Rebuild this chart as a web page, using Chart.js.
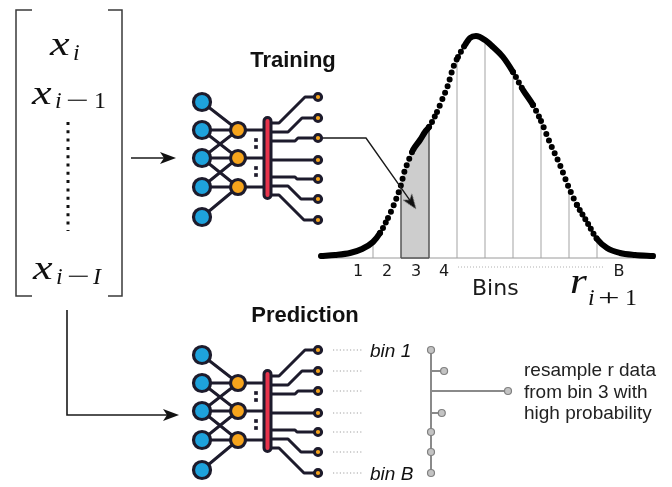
<!DOCTYPE html>
<html>
<head>
<meta charset="utf-8">
<script src="https://cdn.jsdelivr.net/npm/chart.js@4.4.1/dist/chart.umd.min.js"></script>
<style>
html,body{margin:0;padding:0;background:#fff;}
#wrap{width:672px;height:487px;position:relative;}
</style>
</head>
<body>
<div id="wrap"><canvas id="c"></canvas></div>
<script>
// ================= DATA (diagram units: x right, y down) =================
// Distribution of r_{i+1}: sampled points of the dotted density curve
const curveX = [321,335,350,362,373,380,388,395,401,404,408,413,420,425,429,437,442,448,453,458,465,470,476,485,493,503,513,523,533,541,550,560,569,577,587,597,607,620,635,653];
const curveY = [256,255,253,249,242,233,218,202,185,173,162,150,140,132,127,112,100,85,68,57,45,38,36,40,47,57,72,90,105,121,143,165,188,205,222,239,248,253,255,256];
// bin edges and the density height at each edge
const binEdges = [373,401,429,457,485,513,541,569,597];
const binTops  = [242,185,127,59,40,72,121,188,239];
const binLabels = ['1','2','3','4','B'];
const binLabelX = [358,387,416,444,619];
const shadedBin = [401,429];          // bin 3
// Network layout (training network; prediction network is the same, shifted)
const inputY  = [102,130,158,187,217];
const hiddenY = [130,158,187];
const outputY = [97,118,138,160,179,199,220];
const links   = [[0,0],[1,0],[1,1],[2,0],[2,1],[2,2],[3,1],[3,2],[4,2]];
const barLeaveY = [123,132,141,160,177,186,195];
const barBendX  = [279,288,295,0,295,288,279];
const ellipsisY = [140,147,168,175];
const predictionShift = 253;
// Predicted bin probabilities (branch lengths of the resampling tree)
const binProb = [0,0.17,1,0.14,0,0,0];
// Input window labels
const inputLabels = [['x','i'],['x','i','−','1'],['x','i','−','I']];

// ================= STYLE =================
const DARK = '#1d1b2c', BLUE = '#1ea2dc', ORANGE = '#f6a41c', RED = '#e8344c';
const ARROW = '#1a1a1a';
const L = {inX:202, hidX:238, barX:267.5, outX:318, barTop:121, barBot:195, dotsX:256,
           base:258, treeX:431, treeLen:77, leadA:333, leadB:363};

const ds = [];
function seg(points, opts) {
  ds.push(Object.assign({data: points.map(p => ({x:p[0], y:p[1]})), showLine:true, pointRadius:0,
    borderWidth:1, borderColor:'#000', backgroundColor:'transparent', fill:false, tension:0, clip:false,
    borderCapStyle:'butt', borderJoinStyle:'miter'}, opts || {}));
}
function pts(points, opts) {
  ds.push(Object.assign({data: points.map(p => ({x:p[0], y:p[1]})), showLine:false, pointRadius:4,
    pointBorderWidth:0, clip:false}, opts || {}));
}
function makeHead(w, h, notch) {
  const c = document.createElement('canvas'); c.width = w; c.height = h;
  const g = c.getContext('2d'); g.fillStyle = '#111';
  g.beginPath(); g.moveTo(w/2, 0); g.lineTo(w, h); g.lineTo(w/2, h - notch); g.lineTo(0, h); g.closePath(); g.fill();
  return c;
}
const bigHead = makeHead(12, 16, 4);
const smallHead = makeHead(11, 15, 4);
function arrow(path, head, width) {
  const [fx, fy] = path[path.length-2], [tx, ty] = path[path.length-1];
  const dx = tx-fx, dy = ty-fy, len = Math.hypot(dx, dy), ux = dx/len, uy = dy/len;
  const hc = head.height/2;
  const shaft = path.slice(0,-1).concat([[tx - ux*head.height*0.7, ty - uy*head.height*0.7]]);
  seg(shaft, {borderColor: ARROW, borderWidth: width || 1.6});
  pts([[tx - ux*hc, ty - uy*hc]], {pointStyle: head, pointRadius: 5, pointRotation: Math.atan2(ux, -uy)*180/Math.PI});
}

// ---------- input bracket ----------
seg([[32,10],[16,10],[16,296],[32,296]], {borderColor:'#3a3a3a', borderWidth:1.5});
seg([[108,10],[122,10],[122,296],[108,296]], {borderColor:'#3a3a3a', borderWidth:1.5});
seg([[68,122],[68,231]], {borderColor:'#111', borderWidth:3, borderDash:[3,5.3]});

// ---------- arrows into networks ----------
arrow([[131,158],[176,158]], bigHead);
arrow([[67,310],[67,415],[179,415]], bigHead);

// ---------- networks ----------
function network(off) {
  const lk = {borderColor: DARK, borderWidth: 3, borderCapStyle:'round', borderJoinStyle:'round'};
  links.forEach(([i,h]) => seg([[L.inX, inputY[i]+off],[L.hidX, hiddenY[h]+off]], lk));
  hiddenY.forEach(h => seg([[L.hidX, h+off],[L.barX, h+off]], lk));
  outputY.forEach((oy, k) => {
    const by = barLeaveY[k];
    if (!barBendX[k]) { seg([[L.barX, oy+off],[L.outX, oy+off]], lk); return; }
    const b2 = barBendX[k] + Math.abs(by - oy);
    seg([[L.barX, by+off],[barBendX[k], by+off],[b2, oy+off],[L.outX, oy+off]], lk);
  });
  seg([[L.barX, L.barTop+off],[L.barX, L.barBot+off]], {borderColor: DARK, borderWidth: 10, borderCapStyle:'round'});
  seg([[L.barX, L.barTop+off],[L.barX, L.barBot+off]], {borderColor: RED, borderWidth: 4, borderCapStyle:'round'});
  pts(ellipsisY.map(y => [L.dotsX, y+off]), {pointStyle:'rect', pointRadius:2.6, pointBackgroundColor: DARK});
  pts(inputY.map(y => [L.inX, y+off]), {pointRadius:8.5, pointBackgroundColor: BLUE, pointBorderColor: DARK, pointBorderWidth:3.2});
  pts(hiddenY.map(y => [L.hidX, y+off]), {pointRadius:7.5, pointBackgroundColor: ORANGE, pointBorderColor: DARK, pointBorderWidth:3.2});
  pts(outputY.map(y => [L.outX, y+off]), {pointRadius:3.6, pointBackgroundColor: ORANGE, pointBorderColor: DARK, pointBorderWidth:3});
}
network(0);
network(predictionShift);

// ---------- distribution ----------
seg([[320, L.base],[655, L.base]], {borderColor:'#9a9a9a', borderWidth:1});
const shadeIdx = curveX.map((x,i)=>i).filter(i => curveX[i] >= shadedBin[0] && curveX[i] <= shadedBin[1]);
seg(shadeIdx.map(i => [curveX[i], curveY[i]]), {borderWidth:0, fill:{value: L.base}, backgroundColor:'#cdcdcd', cubicInterpolationMode:'monotone'});
binEdges.forEach((e,k) => {
  const isShade = e === shadedBin[0] || e === shadedBin[1];
  seg([[e, L.base],[e, binTops[k]]], {borderColor: isShade ? '#555' : '#a3a3a3', borderWidth: isShade ? 1.5 : 1});
});
seg([[shadedBin[0], L.base],[shadedBin[1], L.base]], {borderColor:'#555', borderWidth:1.5});
seg([[458,267],[603,267]], {borderColor:'#b0b0b0', borderWidth:1, borderDash:[1,2]});
seg(curveX.map((x,i)=>[x, curveY[i]]), {
  borderColor:'#000', borderWidth:6, borderCapStyle:'round', cubicInterpolationMode:'monotone', borderDash:[],
  segment: {
    borderDash: ctx => {
      const dx = ctx.p1.x - ctx.p0.x, dy = ctx.p1.y - ctx.p0.y;
      const s = Math.abs(dy / dx);
      const step = Math.min(7, 2.9 * Math.sqrt(1 + s*s));
      return step < 5.6 ? [] : [0, Math.round(step*2)/2];
    }
  }
});
// training arrow from output 3 to bin 3
arrow([[L.outX+5, outputY[2]],[366, outputY[2]],[416, 209]], smallHead, 1.4);

// ---------- prediction: leaders + resampling tree ----------
outputY.forEach(oy => seg([[L.leadA, oy+predictionShift],[L.leadB, oy+predictionShift]], {borderColor:'#a0a0a0', borderWidth:1, borderDash:[1.2,2.2]}));
const treeY = outputY.map(y => y + predictionShift);
seg([[L.treeX, treeY[0]],[L.treeX, treeY[treeY.length-1]]], {borderColor:'#8a8a8a', borderWidth:2});
binProb.forEach((p,k) => { if (p > 0) seg([[L.treeX, treeY[k]],[L.treeX + p*L.treeLen, treeY[k]]], {borderColor:'#8a8a8a', borderWidth:2}); });
pts(binProb.map((p,k) => [L.treeX + p*L.treeLen, treeY[k]]), {pointRadius:3.5, pointBackgroundColor:'#c3c3c3', pointBorderColor:'#808080', pointBorderWidth:1.2});

// painter's order: later pushed = drawn on top
ds.forEach((d,i) => d.order = -i);

// ================= TEXT =================
const SERIF = '"Liberation Serif","DejaVu Serif",serif';
const SANS = '"Liberation Sans",Arial,sans-serif';
const DSANS = '"DejaVu Sans",sans-serif';
const texts = [];
function T(text, x, y, font, o) { texts.push(Object.assign({text, x, y, font, color:'#111', align:'left'}, o || {})); }
// input window
const mainF = `italic 34px ${SERIF}`, subI = `italic 24px ${SERIF}`, subU = `24px ${SERIF}`;
const rows = [{x:50, y:55, sy:60, sub:[73]}, {x:32, y:104, sy:108, sub:[55,66,94]}, {x:33, y:279, sy:284, sub:[56,67,93]}];
inputLabels.forEach((lab, r) => {
  const R = rows[r];
  T(lab[0], R.x, R.y, mainF, {sx:1.3});
  lab.slice(1).forEach((s, j) => {
    const up = (s === '−' || s === '1');
    T(s, R.sub[j], R.sy, up ? subU : subI, s === '−' ? {sx:1.7} : {});
  });
});
T('Training', 293, 67, `bold 22px ${SANS}`, {align:'center'});
T('Prediction', 305, 322, `bold 22px ${SANS}`, {align:'center'});
binLabels.forEach((b,k) => T(b, binLabelX[k], 276, `16px ${DSANS}`, {align:'center', color:'#1a1a1a'}));
T('Bins', 472, 295, `22px ${DSANS}`, {color:'#1a1a1a'});
T('r', 570, 293, `italic 36px ${SERIF}`, {sx:1.2});
T('i', 588, 305, subI); T('+', 598, 305, subU, {sx:1.6}); T('1', 625, 305, subU);
T('bin 1', 370, 357, `italic 19px ${SANS}`);
T('bin B', 370, 480, `italic 19px ${SANS}`);
['resample r data','from bin 3 with','high probability'].forEach((s,i) => T(s, 524, [376,398,419][i], `19px ${SANS}`, {color:'#222'}));

const textPlugin = {
  id: 'diagramText',
  afterDatasetsDraw(chart) {
    const {ctx, scales} = chart;
    ctx.save();
    texts.forEach(t => {
      ctx.font = t.font; ctx.fillStyle = t.color; ctx.textAlign = t.align; ctx.textBaseline = 'alphabetic';
      const px = scales.x.getPixelForValue(t.x), py = scales.y.getPixelForValue(t.y);
      ctx.save(); ctx.translate(px, py); if (t.sx) ctx.scale(t.sx, 1);
      ctx.fillText(t.text, 0, 0); ctx.restore();
    });
    ctx.restore();
  }
};

new Chart(document.getElementById('c'), {
  type: 'line',
  data: { datasets: ds },
  options: {
    responsive: true, maintainAspectRatio: false, animation: false, events: [],
    layout: { padding: 0, autoPadding: false },
    plugins: { legend: {display:false}, tooltip: {enabled:false} },
    scales: {
      x: { type:'linear', min:0, max:672, display:false },
      y: { type:'linear', min:0, max:487, reverse:true, display:false }
    }
  },
  plugins: [textPlugin]
});
</script>
</body>
</html>
